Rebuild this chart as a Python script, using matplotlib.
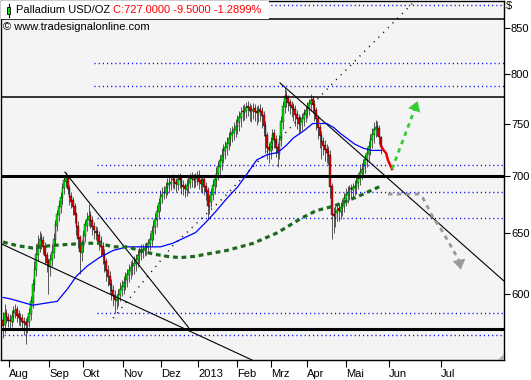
import matplotlib
matplotlib.use("Agg")
import matplotlib.pyplot as plt
from matplotlib.patches import Rectangle, Polygon

# ---------------- data ----------------
opens = [580, 576, 585, 582, 580, 578, 582, 585, 588, 584, 582, 581, 579, 578, 575, 578, 584, 593, 607, 619,
         631, 639, 646, 644, 639, 631, 626, 621, 627, 633, 644, 656, 665, 672, 680, 689, 695, 699, 689, 682,
         678, 673, 666, 656, 646, 633, 639, 647, 656, 661, 665, 661, 656, 651, 651, 648, 643, 639, 632, 626,
         619, 614, 608, 603, 599, 594, 595, 599, 603, 605, 608, 611, 615, 618, 622, 622, 624, 627, 630, 633,
         634, 635, 637, 638, 640, 644, 650, 655, 661, 668, 675, 681, 685, 685, 689, 692, 693, 697, 697, 695,
         692, 698, 697, 692, 691, 687, 691, 694, 699, 697, 695, 697, 701, 696, 692, 697, 691, 687, 672, 677,
         683, 691, 696, 702, 708, 714, 719, 723, 726, 730, 735, 739, 741, 744, 747, 751, 755, 762, 760, 762,
         767, 766, 761, 762, 765, 762, 759, 764, 762, 758, 749, 739, 727, 723, 731, 741, 735, 727, 721, 734,
         751, 766, 779, 776, 771, 768, 766, 764, 759, 755, 749, 751, 754, 758, 762, 765, 769, 774, 769, 763,
         755, 747, 739, 733, 729, 725, 723, 720, 691, 666, 663, 667, 671, 668, 671, 673, 679, 683, 685, 689,
         687, 689, 690, 694, 697, 703, 706, 709, 715, 721, 727, 734, 739, 744, 748, 746, 736.5]
highs = [586, 592, 588, 585, 584, 587, 590, 592, 590, 587, 585, 584, 582, 581, 583, 589, 598, 612, 626, 640,
         648, 651, 650, 647, 642, 634, 628, 632, 640, 650, 661, 670, 678, 686, 694, 701, 704, 701, 692, 686,
         681, 676, 668, 660, 648, 644, 652, 661, 668, 675, 669, 664, 659, 656, 655, 651, 647, 642, 636, 629,
         623, 618, 612, 607, 603, 600, 604, 609, 611, 614, 617, 620, 624, 626, 628, 630, 632, 636, 638, 640,
         640, 641, 642, 645, 650, 656, 661, 667, 674, 680, 687, 690, 691, 695, 698, 699, 700, 702, 700, 698,
         702, 703, 700, 696, 694, 697, 700, 703, 704, 702, 703, 705, 706, 700, 701, 701, 695, 690, 683, 689,
         697, 702, 708, 714, 720, 726, 730, 733, 737, 742, 746, 748, 751, 754, 758, 762, 766, 768, 769, 771,
         772, 770, 768, 770, 769, 767, 768, 769, 766, 762, 752, 742, 731, 737, 745, 745, 739, 731, 739, 757,
         772, 786, 784, 779, 775, 772, 770, 768, 763, 759, 757, 760, 764, 767, 771, 775, 780, 778, 773, 766,
         758, 750, 743, 737, 734, 730, 728, 724, 694, 672, 673, 676, 676, 677, 679, 685, 689, 691, 692, 693,
         694, 696, 700, 703, 709, 712, 716, 721, 727, 733, 740, 746, 751, 753, 752, 749, 738]
lows = [566, 570, 577, 574, 573, 574, 578, 581, 578, 576, 575, 572, 568, 562, 570, 574, 580, 589, 602, 614,
        626, 634, 636, 632, 624, 617, 600, 614, 622, 629, 639, 651, 660, 667, 675, 684, 690, 684, 674, 671,
        665, 658, 648, 637, 616, 626, 634, 642, 651, 656, 654, 648, 645, 644, 640, 635, 630, 624, 617, 610,
        606, 600, 595, 590, 585, 588, 590, 594, 598, 600, 603, 605, 609, 612, 615, 616, 618, 621, 624, 627,
        629, 630, 631, 633, 635, 639, 644, 649, 655, 662, 669, 676, 679, 680, 683, 686, 687, 689, 688, 686,
        687, 689, 684, 683, 681, 682, 685, 689, 690, 689, 690, 692, 688, 686, 685, 683, 678, 662, 666, 672,
        678, 684, 690, 696, 701, 706, 712, 716, 720, 724, 728, 732, 734, 737, 740, 743, 747, 752, 753, 755,
        757, 752, 751, 754, 752, 749, 751, 752, 746, 738, 722, 716, 712, 716, 724, 726, 718, 708, 716, 728,
        745, 760, 766, 762, 759, 756, 752, 748, 745, 740, 742, 744, 748, 751, 755, 758, 762, 760, 752, 744,
        735, 726, 716, 720, 714, 712, 710, 680, 645, 650, 655, 660, 660, 662, 664, 668, 673, 676, 678, 680,
        681, 683, 684, 688, 692, 697, 700, 703, 708, 714, 720, 726, 731, 737, 738, 730, 721]
closes = [575, 585, 582, 579, 579, 583, 586, 587, 583, 581, 580, 578, 577, 576, 579, 585, 594, 608, 620, 632,
          640, 645, 643, 638, 630, 625, 622, 628, 634, 645, 657, 666, 673, 681, 690, 696, 699, 688, 681, 677,
          672, 665, 655, 645, 634, 640, 648, 657, 662, 664, 660, 655, 652, 650, 647, 642, 638, 631, 625, 618,
          613, 607, 602, 598, 595, 596, 600, 604, 606, 609, 612, 616, 619, 621, 623, 625, 628, 631, 634, 635,
          636, 637, 638, 641, 645, 651, 656, 662, 669, 676, 682, 684, 686, 690, 693, 694, 695, 696, 694, 693,
          697, 696, 691, 690, 688, 692, 695, 698, 697, 696, 698, 700, 695, 693, 696, 690, 686, 673, 678, 684,
          692, 697, 703, 709, 715, 720, 724, 727, 731, 736, 740, 742, 745, 748, 752, 756, 760, 761, 763, 766,
          765, 762, 763, 764, 761, 760, 763, 761, 757, 748, 738, 726, 724, 732, 740, 734, 726, 722, 735, 752,
          767, 778, 775, 770, 767, 765, 763, 758, 754, 750, 752, 755, 759, 763, 766, 770, 773, 768, 762, 754,
          746, 738, 732, 728, 724, 722, 719, 690, 665, 664, 668, 670, 669, 672, 674, 680, 684, 686, 687, 688,
          690, 691, 695, 698, 704, 707, 710, 716, 722, 728, 735, 740, 745, 747, 745, 736.5, 727]

# moving average (blue)
ma_x = [0, 4, 17, 31, 37, 42, 48, 55, 63, 71, 90, 97, 110, 116, 122, 128, 134, 139, 145, 151, 157, 162, 166,
        172, 177, 185, 189, 193, 201, 206, 211, 216]
ma_y = [597, 596, 591, 594, 604, 614, 622, 629, 635, 638, 638, 641, 650, 659, 669, 680, 690, 701, 715, 720,
        722, 729, 736, 743, 750, 750, 746, 740, 730, 726, 724, 724]
# long moving average (green dashed)
lma_x = [0, 8, 17, 27, 37, 48, 55, 63, 71, 78, 86, 94, 101, 109, 128, 143, 157, 170, 179, 189, 202, 216]
lma_y = [642, 639, 637, 639, 640, 641, 641, 638, 638, 635, 632, 630, 629, 630, 635, 641, 650, 662, 669, 673,
         681, 691]

# trend lines
trend_a_x = [-1.7, 142.3]
trend_a_y = [641, 550]
trend_b_x = [35.4, 106.0]
trend_b_y = [703.7, 574]
trend_c_x = [158.3, 286.3]
trend_c_y = [791, 610]
trend_d_x = [62.9, 97.1, 125.7, 164, 188.6, 236]
trend_d_y = [581, 639, 680, 745.5, 791, 882]

# horizontal levels
solid_levels = [860, 776.5]
thick_levels = [700, 572.7]
dotted_levels = [876, 812, 788, 710, 686, 662.5, 585, 568]
dotted_start = [-2, 52, 52, 54, 54, 54, 54, -2]

# projections
red_x = [216.5, 217.1, 218.9, 220, 222.3]
red_y = [727, 725, 721.4, 714.8, 706.5]
up_x = [222.3, 236.6]
up_y = [706.5, 770.4]
gray_x = [220, 237.1, 240, 245.7, 251.4, 256.6, 261.1]
gray_y = [683.7, 683.7, 680, 663.3, 650.4, 637, 625.3]

months = ["Aug", "Sep", "Okt", "Nov", "Dez", "2013", "Feb", "Mrz", "Apr", "Mai", "Jun", "Jul"]
month_pos = [3.4, 26.3, 45.7, 68.6, 90.3, 111.4, 133.7, 153.1, 173.7, 196, 220.6, 250.3]
yticks = [600, 650, 700, 750, 800, 850]

# ---------------- figure ----------------
W, H = 531, 380
fig = plt.figure(figsize=(W / 100, H / 100), dpi=100)
fig.patch.set_facecolor("white")
L, R, T, B = 1, 504, 0.5, 360
ax = fig.add_axes([L / W, (H - B) / H, (R - L) / W, (B - T) / H])
ax.set_facecolor("#f4f4f4")
ax.set_yscale("log")
ax.set_xlim(-1.143, 286.3)
ax.set_ylim(550, 881.3)

# candles
for i, (o, h, l, c) in enumerate(zip(opens, highs, lows, closes)):
    ax.plot([i, i], [l, h], color="black", lw=0.45, zorder=2, solid_capstyle="butt")
    col = "#00ee00" if c >= o else "#ee0000"
    lo, hi = min(o, c), max(o, c)
    ax.add_patch(Rectangle((i - 0.5, lo), 1.0, max(hi - lo, 0.6), facecolor=col,
                           edgecolor="black", lw=0.25, zorder=3))

# horizontal lines
for lv in solid_levels:
    ax.axhline(lv, color="black", lw=1.1, zorder=4)
for lv in thick_levels:
    ax.axhline(lv, color="black", lw=2.2, zorder=4)
for lv, st in zip(dotted_levels, dotted_start):
    ax.plot([st, 290], [lv, lv], color="#0000ee", lw=1.0, ls=(0, (0.8, 2.2)), zorder=4)

# trend lines
ax.plot(trend_a_x, trend_a_y, color="black", lw=0.8, zorder=5)
ax.plot(trend_b_x, trend_b_y, color="black", lw=0.8, zorder=5)
ax.plot(trend_c_x, trend_c_y, color="black", lw=0.8, zorder=5)
ax.plot(trend_d_x, trend_d_y, color="black", lw=1.0, ls=(0, (0.8, 4)), zorder=5)

# moving averages
ax.plot(ma_x, ma_y, color="#0000ff", lw=0.9, zorder=6)
ax.plot(lma_x, lma_y, color="#1d6a1d", lw=2.3, ls=(0, (1.5, 1.2)), zorder=6)

# projections
ax.plot(red_x, red_y, color="#ee0000", lw=1.8, zorder=7)
ax.plot(up_x, up_y, color="#33cc33", lw=2.0, ls=(0, (1.6, 1.6)), zorder=7)
ax.annotate("", xy=(237.5, 775), xytext=(235.2, 764),
            arrowprops=dict(arrowstyle="-|>,head_length=0.7,head_width=0.45", color="#33cc33", lw=0.1),
            zorder=7)
ax.plot(gray_x, gray_y, color="#999999", lw=2.0, ls=(0, (1.6, 1.6)), zorder=7)
ax.annotate("", xy=(262, 617), xytext=(260.6, 627),
            arrowprops=dict(arrowstyle="-|>,head_length=0.7,head_width=0.45", color="#999999", lw=0.1),
            zorder=7)

# axes styling
for s in ax.spines.values():
    s.set_color("black")
    s.set_linewidth(1.0)
ax.yaxis.tick_right()
ax.set_yticks(yticks)
ax.set_yticklabels([str(v) for v in yticks])
ax.yaxis.set_minor_locator(matplotlib.ticker.NullLocator())
ax.tick_params(axis="y", direction="out", length=4, width=0.8, pad=1, labelsize=8, colors="black")
ax.set_xticks(month_pos)
ax.set_xticklabels(months)
ax.tick_params(axis="x", direction="out", length=5, width=0.8, pad=1.5, labelsize=8)
for lab in ax.get_xticklabels():
    lab.set_horizontalalignment("left")
for lab in ax.get_xticklabels() + ax.get_yticklabels():
    lab.set_fontfamily("Liberation Sans")

# text
ax.text(1.003, 0.985, "$", transform=ax.transAxes, fontsize=8, fontfamily="Liberation Sans",
        ha="left", va="center")
ax.add_patch(Rectangle((0, 1 - 18 / 359.5), 268 / 503, 18 / 359.5, transform=ax.transAxes,
                       facecolor="white", edgecolor="none", zorder=9))
ax.plot([7.5 / 503, 7.5 / 503], [1 - 16 / 359.5, 1 - 3 / 359.5], transform=ax.transAxes,
        color="black", lw=0.8, zorder=10)
ax.add_patch(Rectangle((5.5 / 503, 1 - 13 / 359.5), 4 / 503, 7 / 359.5, transform=ax.transAxes,
                       facecolor="#10e010", edgecolor="black", lw=0.6, zorder=10))
t1 = ax.text(15 / 503, 1 - 9.5 / 359.5, "Palladium USD/OZ ", transform=ax.transAxes, fontsize=8,
             fontfamily="Liberation Sans", ha="left", va="center", color="black", zorder=11)
ax.annotate("C:727.0000 -9.5000 -1.2899%", xy=(1, 0.5), xycoords=t1, fontsize=8,
            fontfamily="Liberation Sans", ha="left", va="center", color="#ff0000", zorder=11)
ax.text(2 / 503, 1 - 27 / 359.5, "\u00a9 www.tradesignalonline.com", transform=ax.transAxes, fontsize=8,
        fontfamily="Liberation Sans", ha="left", va="center", color="black", zorder=11)

# resize grip
ax.add_patch(Polygon([(1 - 6 / 503, 0.5 / 359.5), (1, 0.5 / 359.5), (1, 6 / 359.5)], closed=True,
                     transform=ax.transAxes, facecolor="#aaaaaa", edgecolor="none", zorder=9))

fig.savefig("out.png", dpi=100, facecolor="white")
